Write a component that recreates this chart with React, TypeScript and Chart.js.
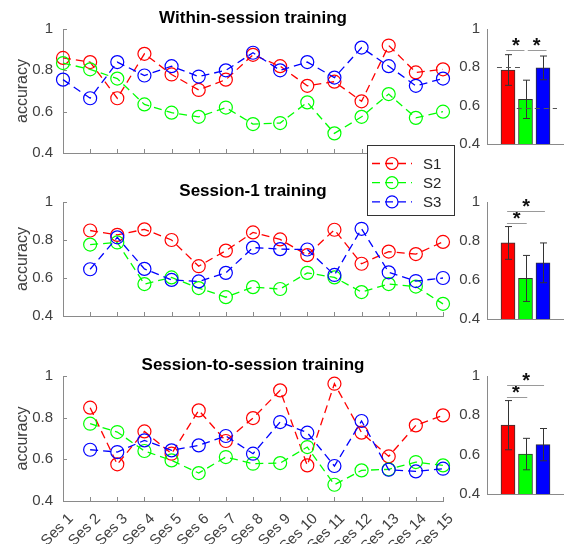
import React, { useEffect, useRef } from 'react';
import { Chart, registerables } from 'chart.js';

Chart.register(...registerables);
Chart.defaults.font.family = '"Liberation Sans", Arial, Helvetica, sans-serif';

// ---------------- data ----------------
const SESSIONS = ['Ses 1', 'Ses 2', 'Ses 3', 'Ses 4', 'Ses 5', 'Ses 6', 'Ses 7', 'Ses 8', 'Ses 9', 'Ses 10', 'Ses 11', 'Ses 12', 'Ses 13', 'Ses 14', 'Ses 15'];
const SUBJECTS = ['S1', 'S2', 'S3'];
const Y_TICKS = [0.4, 0.6, 0.8, 1];
const Y_LABEL = 'accuracy';

const TITLE_WITHIN = 'Within-session training';
const TITLE_S1 = 'Session-1 training';
const TITLE_S2S = 'Session-to-session training';

const WITHIN_S1 = [0.86, 0.84, 0.665, 0.88, 0.78, 0.705, 0.755, 0.875, 0.82, 0.725, 0.745, 0.65, 0.92, 0.79, 0.805];
const WITHIN_S2 = [0.835, 0.805, 0.76, 0.635, 0.595, 0.575, 0.62, 0.54, 0.545, 0.645, 0.495, 0.575, 0.685, 0.57, 0.6];
const WITHIN_S3 = [0.755, 0.665, 0.84, 0.775, 0.82, 0.77, 0.8, 0.885, 0.8, 0.84, 0.765, 0.91, 0.82, 0.725, 0.76];

const SES1_S1 = [null, 0.85, 0.827, 0.856, 0.8, 0.662, 0.744, 0.84, 0.803, 0.72, 0.854, 0.675, 0.739, 0.726, 0.79];
const SES1_S2 = [null, 0.776, 0.787, 0.568, 0.603, 0.547, 0.499, 0.552, 0.542, 0.627, 0.603, 0.526, 0.568, 0.555, 0.464];
const SES1_S3 = [null, 0.646, 0.814, 0.648, 0.59, 0.582, 0.627, 0.76, 0.752, 0.75, 0.616, 0.859, 0.63, 0.584, 0.6];

const S2S_S1 = [null, 0.848, 0.576, 0.734, 0.627, 0.835, 0.688, 0.798, 0.931, 0.571, 0.963, 0.728, 0.614, 0.763, 0.811];
const S2S_S2 = [null, 0.771, 0.731, 0.64, 0.595, 0.534, 0.611, 0.579, 0.582, 0.659, 0.478, 0.547, 0.552, 0.587, 0.571];
const S2S_S3 = [null, 0.646, 0.635, 0.691, 0.643, 0.667, 0.712, 0.627, 0.779, 0.728, 0.568, 0.784, 0.55, 0.542, 0.555];

const WITHIN_MEAN = [0.786, 0.633, 0.797];
const WITHIN_ERR = [0.08, 0.1, 0.062];
const SES1_MEAN = [0.79, 0.608, 0.688];
const SES1_ERR = [0.084, 0.118, 0.102];
const S2S_MEAN = [0.75, 0.603, 0.651];
const S2S_ERR = [0.125, 0.08, 0.082];

// reference (dashed) levels in the within-session bar panel
const WITHIN_REF = [
  { y: 0.802, x1: 0.37, x2: 1.7 },
  { y: 0.59, x1: 1.5, x2: 3.8 },
];
// significance brackets: x in bar units, y in accuracy
const SIG_WITHIN = [
  { x1: 0.9, x2: 1.94, y: 0.89, sx: 1.45 },
  { x1: 2.13, x2: 3.2, y: 0.89, sx: 2.64 },
];
const SIG_SES1 = [
  { x1: 0.94, x2: 2.07, y: 0.891, sx: 1.5 },
  { x1: 0.95, x2: 3.11, y: 0.955, sx: 2.03 },
];
const SIG_S2S = [
  { x1: 0.94, x2: 2.1, y: 0.894, sx: 1.45 },
  { x1: 0.95, x2: 3.06, y: 0.955, sx: 2.03 },
];

// ---------------- style ----------------
const COLORS = ['#ff0000', '#00ff00', '#0000ff'];
const AXIS = '#8a8a8a';
const TEXT = '#404040';
const Y_MIN = 0.4;
const Y_MAX = 1;

const framePlugin = {
  id: 'frame',
  beforeDatasetsDraw(chart: any) {
    const { ctx, chartArea: ca, scales } = chart;
    ctx.save();
    ctx.strokeStyle = AXIS;
    ctx.lineWidth = 1;
    const tl = 4;
    scales.x.ticks.forEach((_t: any, i: number) => {
      const px = Math.round(scales.x.getPixelForTick(i)) + 0.5;
      ctx.beginPath();
      ctx.moveTo(px, ca.bottom);
      ctx.lineTo(px, ca.bottom - tl);
      ctx.stroke();
    });
    scales.y.ticks.forEach((_t: any, i: number) => {
      const py = Math.round(scales.y.getPixelForTick(i)) + 0.5;
      ctx.beginPath();
      ctx.moveTo(ca.left, py);
      ctx.lineTo(ca.left + tl, py);
      ctx.stroke();
    });
    ctx.restore();
  },
  afterDraw(chart: any, _a: any, opts: any) {
    const { ctx, chartArea: ca } = chart;
    ctx.save();
    ctx.fillStyle = '#000';
    ctx.font = 'bold 17px "Liberation Sans", Arial, sans-serif';
    ctx.textAlign = 'center';
    ctx.textBaseline = 'alphabetic';
    ctx.fillText(opts.title, (ca.left + ca.right) / 2, ca.top - 6);

    ctx.fillStyle = TEXT;
    ctx.font = '16px "Liberation Sans", Arial, sans-serif';
    ctx.translate(22.5, (ca.top + ca.bottom) / 2);
    ctx.rotate(-Math.PI / 2);
    ctx.textBaseline = 'middle';
    ctx.fillText(Y_LABEL, 0, 0);
    ctx.restore();

    if (opts.legend) {
      const bx = 367.5, by = 145.5, bw = 87, bh = 70;
      ctx.save();
      ctx.fillStyle = '#fff';
      ctx.fillRect(bx, by, bw, bh);
      ctx.strokeStyle = '#333';
      ctx.lineWidth = 1;
      ctx.strokeRect(bx, by, bw, bh);
      chart.data.datasets.forEach((ds: any, i: number) => {
        const yy = 163.5 + i * 19.2;
        ctx.strokeStyle = ds.borderColor;
        ctx.lineWidth = ds.borderWidth;
        ctx.setLineDash(ds.borderDash);
        ctx.beginPath();
        ctx.moveTo(372, yy);
        ctx.lineTo(412, yy);
        ctx.stroke();
        ctx.setLineDash([]);
        ctx.lineWidth = ds.pointBorderWidth;
        ctx.beginPath();
        ctx.arc(392, yy, 6, 0, Math.PI * 2);
        ctx.stroke();
        ctx.fillStyle = '#262626';
        ctx.font = '15px "Liberation Sans", Arial, sans-serif';
        ctx.textAlign = 'left';
        ctx.textBaseline = 'middle';
        ctx.fillText(ds.label, 423, yy + 1);
      });
      ctx.restore();
    }
  },
};

const barPlugin = {
  id: 'barDecor',
  afterDatasetsDraw(chart: any, _a: any, opts: any) {
    const { ctx, scales } = chart;
    const x = scales.x, y = scales.y;
    ctx.save();
    // error bars
    ctx.strokeStyle = '#333';
    ctx.lineWidth = 1;
    opts.mean.forEach((m: number, i: number) => {
      const px = Math.round(x.getPixelForValue(i + 1)) + 0.5;
      const y1 = y.getPixelForValue(m + opts.err[i]);
      const y2 = y.getPixelForValue(m - opts.err[i]);
      ctx.beginPath();
      ctx.moveTo(px, y1); ctx.lineTo(px, y2);
      ctx.moveTo(px - 3.5, y1); ctx.lineTo(px + 3.5, y1);
      ctx.moveTo(px - 3.5, y2); ctx.lineTo(px + 3.5, y2);
      ctx.stroke();
    });
    // dashed reference lines
    ctx.strokeStyle = '#555';
    ctx.setLineDash([5, 4]);
    (opts.refs || []).forEach((r: any) => {
      const py = Math.round(y.getPixelForValue(r.y)) + 0.5;
      ctx.beginPath();
      ctx.moveTo(x.getPixelForValue(r.x1), py);
      ctx.lineTo(x.getPixelForValue(r.x2), py);
      ctx.stroke();
    });
    ctx.setLineDash([]);
    // significance brackets
    (opts.sig || []).forEach((s: any) => {
      const py = Math.round(y.getPixelForValue(s.y)) + 0.5;
      ctx.strokeStyle = '#9a9a9a';
      ctx.beginPath();
      ctx.moveTo(x.getPixelForValue(s.x1), py);
      ctx.lineTo(x.getPixelForValue(s.x2), py);
      ctx.stroke();
      ctx.fillStyle = '#111';
      ctx.font = 'bold 20px "Liberation Sans", Arial, sans-serif';
      ctx.textAlign = 'center';
      ctx.textBaseline = 'alphabetic';
      ctx.fillText('*', x.getPixelForValue(s.sx), py + 1.5);
    });
    ctx.restore();
  },
};

function yScale(width: number, padding: number) {
  return {
    type: 'linear',
    min: Y_MIN,
    max: Y_MAX,
    grid: { display: false, drawTicks: false },
    border: { display: true, color: AXIS, width: 1 },
    afterBuildTicks: (s: any) => { s.ticks = Y_TICKS.map((v) => ({ value: v })); },
    ticks: { color: TEXT, font: { size: 15 }, padding, callback: (v: any) => String(v) },
    afterFit: (s: any) => { s.width = width; },
  };
}

function lineConfig(title: string, series: (number | null)[][], pad: any, xh: number, showX: boolean, legend: boolean): any {
  return {
    type: 'line',
    data: {
      labels: SESSIONS,
      datasets: series.map((d, i) => ({
        label: SUBJECTS[i],
        data: d,
        borderColor: COLORS[i],
        backgroundColor: 'rgba(0,0,0,0)',
        borderWidth: 1.3,
        borderDash: [8, 5],
        pointRadius: 6.5,
        pointHoverRadius: 6.5,
        pointBorderWidth: 1.2,
        pointBorderColor: COLORS[i],
        pointBackgroundColor: 'rgba(0,0,0,0)',
        fill: false,
        tension: 0,
        clip: false,
        order: 3 - i,
      })),
    },
    options: {
      responsive: false,
      animation: false,
      devicePixelRatio: 1,
      events: [],
      layout: { padding: pad },
      plugins: {
        legend: { display: false },
        tooltip: { enabled: false },
        title: { display: false },
        frame: { title, legend },
      },
      scales: {
        x: {
          type: 'category',
          offset: false,
          grid: { display: false, drawTicks: false },
          border: { display: true, color: AXIS, width: 1 },
          ticks: { display: showX, autoSkip: false, minRotation: 45, maxRotation: 45, color: TEXT, font: { size: 15 }, padding: 9, labelOffset: 8 },
          afterFit: (s: any) => { s.height = xh; },
        },
        y: yScale(63, 10),
      },
    },
    plugins: [framePlugin],
  };
}

function barConfig(mean: number[], err: number[], pad: any, refs: any[], sig: any[]): any {
  return {
    type: 'bar',
    data: {
      datasets: [{
        data: mean.map((m, i) => ({ x: i + 1, y: m })),
        backgroundColor: COLORS,
        borderColor: '#333',
        borderWidth: 1,
        barThickness: 14,
        base: Y_MIN,
      }],
    },
    options: {
      responsive: false,
      animation: false,
      devicePixelRatio: 1,
      events: [],
      layout: { padding: pad },
      plugins: {
        legend: { display: false },
        tooltip: { enabled: false },
        barDecor: { mean, err, refs, sig },
      },
      scales: {
        x: {
          type: 'linear',
          min: -0.2,
          max: 4.2,
          offset: false,
          grid: { display: false, drawTicks: false },
          border: { display: true, color: AXIS, width: 1 },
          ticks: { display: false },
          afterFit: (s: any) => { s.height = 2; },
        },
        y: yScale(37, 7),
      },
    },
    plugins: [barPlugin],
  };
}

function ChartBox({ config, left, top, width, height, z }: any) {
  const ref = useRef<HTMLCanvasElement>(null);
  useEffect(() => {
    const chart = new Chart(ref.current as HTMLCanvasElement, config);
    return () => chart.destroy();
  }, []);
  return (
    <canvas
      ref={ref}
      width={width}
      height={height}
      style={{ position: 'absolute', left, top, width, height, zIndex: z || 0 }}
    />
  );
}

export default function App() {
  return (
    <div style={{ position: 'absolute', left: 0, top: 0, width: 564, height: 544, background: '#fff', overflow: 'hidden' }}>
      <ChartBox left={0} top={175} width={470} height={160}
        config={lineConfig(TITLE_S1, [SES1_S1, SES1_S2, SES1_S3], { top: 27, right: 27, bottom: 6, left: 0 }, 2, false, false)} />
      <ChartBox left={0} top={345} width={470} height={199}
        config={lineConfig(TITLE_S2S, [S2S_S1, S2S_S2, S2S_S3], { top: 31, right: 27, bottom: 0, left: 0 }, 43, true, false)} />
      <ChartBox left={450} top={0} width={114} height={160}
        config={barConfig(WITHIN_MEAN, WITHIN_ERR, { top: 29, right: 0, bottom: 5, left: 0 }, WITHIN_REF, SIG_WITHIN)} />
      <ChartBox left={450} top={175} width={114} height={160}
        config={barConfig(SES1_MEAN, SES1_ERR, { top: 27, right: 0, bottom: 6, left: 0 }, [], SIG_SES1)} />
      <ChartBox left={450} top={345} width={114} height={165}
        config={barConfig(S2S_MEAN, S2S_ERR, { top: 31, right: 0, bottom: 7, left: 0 }, [], SIG_S2S)} />
      <ChartBox left={0} top={0} width={470} height={225} z={3}
        config={lineConfig(TITLE_WITHIN, [WITHIN_S1, WITHIN_S2, WITHIN_S3], { top: 29, right: 27, bottom: 70, left: 0 }, 2, false, true)} />
    </div>
  );
}
